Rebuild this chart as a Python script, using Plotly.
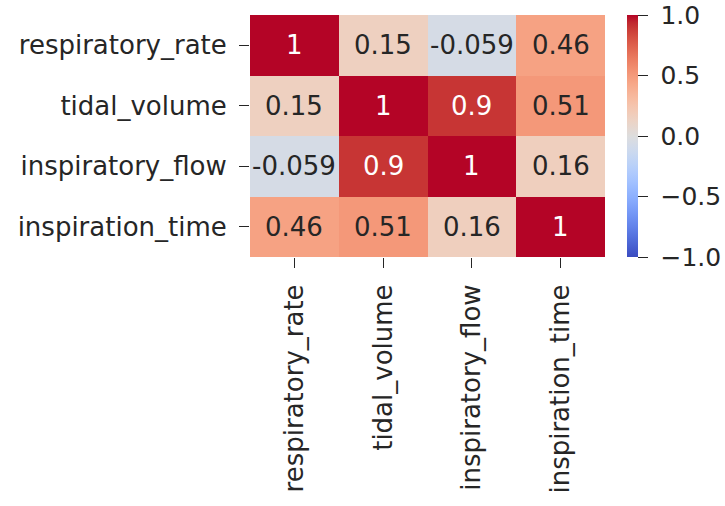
import plotly.graph_objects as go

# Correlation matrix of ventilation parameters
labels = ["respiratory_rate", "tidal_volume", "inspiratory_flow", "inspiration_time"]
row_respiratory_rate = [1.0, 0.15, -0.059, 0.46]
row_tidal_volume = [0.15, 1.0, 0.9, 0.51]
row_inspiratory_flow = [-0.059, 0.9, 1.0, 0.16]
row_inspiration_time = [0.46, 0.51, 0.16, 1.0]
corr = [row_respiratory_rate, row_tidal_volume, row_inspiratory_flow, row_inspiration_time]

cbar_ticks = [-1.0, -0.5, 0.0, 0.5, 1.0]

# Diverging cool-warm colour map (blue -> grey -> red)
coolwarm_rgb = [
    (59, 76, 192), (68, 90, 204), (77, 104, 215), (87, 117, 225), (98, 130, 234),
    (108, 142, 241), (119, 154, 247), (130, 165, 251), (141, 176, 254), (152, 185, 255),
    (163, 194, 255), (174, 201, 253), (184, 208, 249), (194, 213, 244), (204, 217, 238),
    (213, 219, 230), (221, 221, 221), (229, 216, 209), (236, 211, 197), (241, 204, 185),
    (245, 196, 173), (247, 187, 160), (247, 177, 148), (247, 166, 135), (244, 154, 123),
    (241, 141, 111), (236, 127, 99), (229, 112, 88), (222, 96, 77), (213, 80, 66),
    (203, 62, 56), (192, 40, 47), (180, 4, 38),
]
n = len(coolwarm_rgb)
coolwarm = [[i / (n - 1), "rgb(%d,%d,%d)" % c] for i, c in enumerate(coolwarm_rgb)]

FONT = "DejaVu Sans"
TEXT = "#262626"
FS = 26
FS_CELL = 26
FS_CBAR = 25


def cbar_label(v):
    s = "%.1f" % abs(v)
    return " " + ("\u2212" + s if v < 0 else s)


fig = go.Figure()
fig.add_trace(go.Heatmap(
    z=corr, x=labels, y=labels,
    colorscale=coolwarm, zmin=-1, zmax=1,
    xgap=0, ygap=0,
    hoverinfo="skip",
    colorbar=dict(
        x=1.062, xanchor="left", xpad=0,
        y=0.5, yanchor="middle", ypad=0,
        len=1, lenmode="fraction", thickness=11,
        outlinewidth=0,
        tickvals=cbar_ticks, ticktext=[cbar_label(v) for v in cbar_ticks],
        ticks="outside", ticklen=10, tickwidth=1.4, tickcolor=TEXT,
        ticklabeloverflow="allow",
        tickfont=dict(family=FONT, size=FS_CBAR, color=TEXT),
    ),
))

# Cell value labels: white on dark cells, dark grey elsewhere
def lum(c):
    def ch(v):
        v = v / 255
        return v / 12.92 if v <= 0.03928 else ((v + 0.055) / 1.055) ** 2.4
    r, g, b = c
    return 0.2126 * ch(r) + 0.7152 * ch(g) + 0.0722 * ch(b)


def colour_at(v):
    t = (v + 1) / 2 * (n - 1)
    i = min(int(t), n - 2)
    f = t - i
    a, b = coolwarm_rgb[i], coolwarm_rgb[i + 1]
    return tuple(a[k] + (b[k] - a[k]) * f for k in range(3))


for i, ylab in enumerate(labels):
    for j, xlab in enumerate(labels):
        v = corr[i][j]
        col = "white" if lum(colour_at(v)) < 0.408 else TEXT
        fig.add_annotation(
            x=xlab, y=ylab, text=format(v, ".2g"), showarrow=False,
            font=dict(family=FONT, size=FS_CELL, color=col),
        )

fig.update_layout(
    width=725, height=506,
    margin=dict(l=250, r=120, t=15, b=249, autoexpand=False),
    paper_bgcolor="white", plot_bgcolor="white",
    font=dict(family=FONT, size=FS, color=TEXT),
    showlegend=False,
)
fig.update_xaxes(
    type="category", tickangle=-90, showgrid=False, zeroline=False,
    ticks="outside", ticklen=10, tickwidth=1.4, tickcolor=TEXT, automargin=False,
    tickfont=dict(family=FONT, size=FS, color=TEXT), ticklabelstandoff=6,
)
fig.update_yaxes(
    type="category", autorange="reversed", showgrid=False, zeroline=False,
    ticks="outside", ticklen=10, tickwidth=1.4, tickcolor=TEXT, automargin=False,
    tickfont=dict(family=FONT, size=FS, color=TEXT), ticklabelstandoff=7,
)

fig.write_html("out.html")
